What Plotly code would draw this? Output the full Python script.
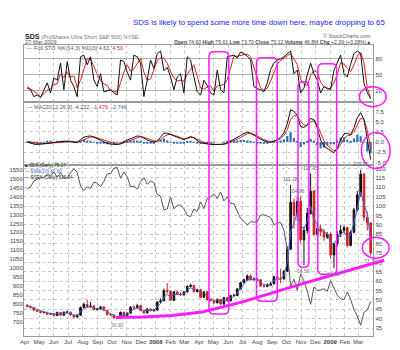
import plotly.graph_objects as go
import pandas as pd

W, H = 400, 350

# ---------------- data (weekly readings) ----------------
weeks = pd.date_range("2007-04-06", "2009-03-27", freq="W-FRI")

month_ticks = pd.date_range("2007-04-01", "2009-03-01", freq="MS")
month_labels = ["Apr", "May", "Jun", "Jul", "Aug", "Sep", "Oct", "Nov", "Dec", "<b>2008</b>",
                "Feb", "Mar", "Apr", "May", "Jun", "Jul", "Aug", "Sep", "Oct", "Nov", "Dec",
                "<b>2009</b>", "Feb", "Mar"]

sds_open = [47.2, 46.5, 46.0, 44.5, 43.9, 43.3, 43.4, 42.4, 42.8, 41.7,
            43.3, 41.9, 43.5, 43.5, 42.0, 40.9, 41.9, 46.0, 47.6, 46.4,
            46.8, 44.8, 45.1, 46.3, 44.5, 42.1, 42.0, 40.5, 40.3, 43.4,
            41.6, 42.9, 46.1, 45.8, 46.9, 44.4, 43.1, 45.1, 44.2,
            44.6, 48.9, 49.6, 55.0, 54.6, 49.8, 54.3, 53.0, 52.7, 54.3,
            57.2, 57.7, 54.4, 55.5, 51.4, 54.3, 50.1, 49.6, 48.5, 50.3,
            47.8, 51.2, 49.5, 52.3, 52.4, 55.8, 59.2, 60.7, 62.8, 60.8,
            61.1, 60.8, 57.4, 57.2, 57.8, 58.6, 62.4, 61.5, 61.2, 65.3,
            77.0, 102.0, 95.0, 102.5, 82.0, 87.0, 96.0, 108.0, 85.0, 88.0,
            86.5, 83.5,
            85.0, 74.0, 80.0, 85.0, 87.0, 88.5, 79.0, 86.0, 98.0, 106.0, 117.0, 94.0, 91.0]
sds_high = [47.8, 47.0, 46.3, 44.9, 44.3, 44.0, 43.8, 43.2, 43.1, 43.8,
            43.6, 43.9, 44.2, 43.9, 42.3, 42.5, 46.5, 48.6, 50.2, 49.0,
            47.2, 45.9, 46.8, 46.6, 44.8, 42.7, 42.4, 41.0, 43.9, 43.8,
            43.5, 46.8, 47.0, 48.0, 47.4, 44.8, 45.6, 45.6, 45.2,
            49.3, 50.8, 56.0, 59.0, 55.2, 54.8, 54.9, 54.2, 54.8, 57.8,
            58.6, 58.0, 56.0, 55.9, 54.8, 54.6, 50.8, 50.0, 50.8, 50.6,
            51.6, 51.6, 52.8, 53.4, 56.4, 59.6, 61.4, 63.6, 63.5, 62.0,
            61.8, 61.2, 58.3, 58.8, 59.5, 62.8, 63.4, 66.5, 66.0, 78.5,
            111.2, 104.0, 105.0, 104.9, 89.0, 99.0, 117.3, 108.5, 92.0, 90.0,
            88.0, 86.0,
            86.0, 80.5, 86.5, 90.0, 89.5, 89.0, 87.0, 99.0, 108.0, 119.3, 117.5, 97.0, 91.5]
sds_low = [46.0, 45.6, 44.2, 43.5, 42.9, 42.8, 42.0, 42.2, 41.3, 41.5,
           41.6, 41.7, 43.0, 41.8, 40.6, 40.6, 41.6, 45.6, 46.0, 45.9,
           44.5, 44.6, 44.9, 44.2, 41.9, 41.5, 40.2, 39.8, 40.0, 41.3,
           41.3, 42.6, 45.2, 45.5, 44.0, 42.8, 42.9, 44.0, 44.0,
           44.4, 48.2, 49.3, 53.5, 49.5, 49.5, 52.6, 52.2, 52.4, 54.0,
           56.6, 54.0, 54.0, 51.0, 51.1, 49.8, 49.3, 48.0, 48.2, 47.5,
           47.6, 49.2, 49.2, 51.8, 52.0, 55.5, 58.8, 60.3, 60.4, 60.3,
           60.3, 57.0, 56.6, 56.8, 57.4, 58.3, 60.5, 59.0, 60.8, 64.8,
           76.5, 88.0, 92.0, 80.5, 68.5, 85.5, 95.5, 84.0, 83.5, 84.0,
           81.5, 82.5,
           72.0, 67.0, 78.5, 83.5, 85.5, 78.0, 78.5, 85.5, 97.0, 105.0, 92.0, 87.0, 73.7]
sds_close = [46.5, 46.0, 44.5, 43.9, 43.3, 43.4, 42.4, 42.8, 41.7, 43.3,
             41.9, 43.5, 43.5, 42.0, 40.9, 41.9, 46.0, 47.6, 46.4, 46.8,
             44.8, 45.1, 46.3, 44.5, 42.1, 42.0, 40.5, 40.3, 43.4, 41.6,
             42.9, 46.1, 45.8, 46.9, 44.4, 43.1, 45.1, 44.2, 44.6,
             48.9, 49.6, 55.0, 54.6, 49.8, 54.3, 53.0, 52.7, 54.3, 57.2,
             57.7, 54.4, 55.5, 51.4, 54.3, 50.1, 49.6, 48.5, 50.3, 47.8,
             51.2, 49.5, 52.3, 52.4, 55.8, 59.2, 60.7, 62.8, 60.8, 61.1,
             60.8, 57.4, 57.2, 57.8, 58.6, 62.4, 61.5, 61.2, 65.3, 77.0,
             102.0, 95.0, 102.5, 82.0, 87.0, 96.0, 108.0, 85.0, 88.0, 86.5,
             83.5, 85.0,
             74.0, 80.0, 85.0, 87.0, 88.5, 79.0, 86.0, 98.0, 106.0, 117.0, 94.0, 91.0, 75.1]
sds_ema = [47.0, 46.6, 45.7, 44.9, 44.1, 43.7, 43.1, 42.9, 42.4, 42.7,
           42.3, 42.8, 43.1, 42.6, 41.8, 41.8, 43.5, 45.5, 46.0, 46.4,
           45.7, 45.3, 45.7, 45.1, 43.6, 42.8, 41.7, 41.0, 42.0, 41.9,
           42.3, 44.0, 45.0, 45.9, 45.3, 44.3, 44.6, 44.4, 44.5,
           46.5, 48.0, 51.5, 53.0, 51.5, 52.8, 53.0, 52.8, 53.5, 55.3,
           56.5, 55.5, 55.5, 53.5, 53.8, 52.0, 50.8, 49.7, 50.0, 49.0,
           50.0, 49.8, 51.0, 51.7, 53.7, 56.5, 58.6, 60.7, 60.8, 61.0,
           60.9, 59.2, 58.2, 58.0, 58.3, 60.3, 61.0, 61.1, 63.2, 70.0,
           86.0, 91.0, 96.5, 89.5, 88.0, 92.0, 100.0, 92.5, 90.0, 88.3,
           86.0, 85.5,
           80.0, 80.0, 82.5, 84.8, 86.7, 83.0, 84.5, 91.0, 98.5, 107.5, 101.0, 96.0, 81.0]
spx_close = [1443, 1453, 1485, 1495, 1506, 1505, 1523, 1515, 1536, 1507,
             1533, 1503, 1503, 1531, 1553, 1534, 1458, 1433, 1453, 1445,
             1479, 1474, 1454, 1484, 1525, 1527, 1557, 1561, 1501, 1535,
             1509, 1453, 1458, 1441, 1481, 1504, 1468, 1484, 1478,
             1411, 1401, 1325, 1330, 1396, 1331, 1349, 1353, 1331, 1294,
             1288, 1330, 1316, 1370, 1332, 1390, 1398, 1414, 1388, 1425,
             1375, 1400, 1361, 1360, 1318, 1278, 1262, 1240, 1260, 1257,
             1260, 1296, 1298, 1292, 1283, 1242, 1252, 1255, 1213, 1099,
             899, 940, 877, 968, 930, 873, 800, 896, 876, 879,
             887, 872,
             931, 890, 850, 832, 826, 869, 827, 770, 735, 683, 756, 768, 816]
sto_k = [25, 22, 9, 12, 7, 22, 35, 16, 44, 40,
         72, 22, 75, 40, 28, 9, 84, 87, 69, 84,
         40, 28, 52, 18, 20, 22, 16, 12, 78, 75,
         55, 40, 87, 84, 72, 9, 40, 78, 62, 90,
         95, 58, 64, 46, 22, 46, 52, 16, 84, 78,
         46, 18, 12, 40, 30, 16, 12, 59, 22, 16,
         84, 85, 87, 82, 93, 90, 85, 78, 28, 24,
         22, 18, 35, 60, 72, 78, 80, 84, 90, 95,
         52, 59, 16, 25, 50, 72, 52, 40, 16, 28,
         25, 22, 59, 72, 87, 52, 46, 70, 90, 95,
         90, 34, 16, 5]
sto_d = [28, 24, 19, 14, 9, 14, 21, 24, 32, 33,
         52, 45, 56, 46, 48, 26, 40, 60, 80, 80,
         64, 51, 40, 33, 30, 20, 19, 17, 35, 55,
         69, 57, 61, 70, 81, 55, 40, 42, 60, 77,
         82, 81, 72, 56, 44, 38, 40, 38, 51, 59,
         69, 47, 25, 23, 27, 29, 19, 29, 31, 32,
         41, 62, 85, 85, 87, 88, 89, 84, 64, 43,
         25, 21, 25, 38, 56, 70, 77, 81, 85, 90,
         80, 69, 42, 33, 30, 49, 58, 55, 36, 28,
         23, 25, 35, 51, 73, 70, 62, 56, 69, 85,
         92, 73, 25, 6]
macd_line = [0.1, -0.2, -0.5, -0.6, -0.5, -0.4, -0.2, -0.1, -0.1, 0.0,
             0.1, 0.2, 0.2, 0.2, 0.0, -0.1, 0.6, 1.2, 1.4, 1.5,
             1.2, 0.8, 0.4, 0.1, -0.3, -0.5, -0.6, -0.6, -0.4, 0.1,
             0.5, 0.8, 1.2, 1.5, 1.4, 0.9, 0.5, 0.2, 0.0, 0.2,
             1.2, 2.2, 2.2, 1.8, 1.5, 1.2, 0.9, 0.6, 1.0, 1.4,
             1.0, 0.3, -0.2, -0.3, -0.5, -0.6, -0.6, -0.6, -0.6, -0.5,
             -0.2, 0.2, 0.6, 1.1, 1.6, 2.1, 2.4, 2.2, 1.8, 1.2,
             0.7, 0.3, 0.0, 0.0, 0.2, 0.6, 1.2, 2.3, 4.5, 7.9,
             7.5, 6.5, 3.8, 3.6, 4.2, 5.8, 5.5, 3.5, 0.5, -1.0,
             -1.6, -2.0, -2.6, -1.5, 0.5, 2.0, 2.2, 1.8, 3.5, 6.0,
             7.2, 5.5, 0.5, -4.2]
macd_signal = [0.2, 0.1, -0.1, -0.3, -0.4, -0.45, -0.35, -0.25, -0.15, -0.1,
               0.0, 0.05, 0.1, 0.15, 0.1, 0.05, 0.2, 0.6, 1.0, 1.25,
               1.3, 1.1, 0.8, 0.5, 0.2, -0.1, -0.3, -0.45, -0.45, -0.2,
               0.1, 0.4, 0.8, 1.1, 1.3, 1.2, 0.9, 0.6, 0.3, 0.2,
               0.6, 1.3, 1.8, 1.9, 1.7, 1.4, 1.1, 0.8, 0.9, 1.1,
               1.1, 0.7, 0.2, -0.1, -0.3, -0.45, -0.55, -0.6, -0.6, -0.55,
               -0.35, -0.05, 0.3, 0.7, 1.1, 1.6, 2.0, 2.1, 1.9, 1.5,
               1.0, 0.6, 0.3, 0.1, 0.1, 0.4, 0.8, 1.6, 3.0, 5.5,
               6.5, 6.4, 5.0, 4.2, 4.1, 5.0, 5.2, 4.2, 2.0, 0.3,
               -0.8, -1.5, -2.1, -1.8, -0.6, 0.8, 1.6, 1.7, 2.6, 4.2,
               5.8, 5.6, 2.8, -1.5]
macd_hist = [m - s for m, s in zip(macd_line, macd_signal)]

sds_ticks = [35, 40, 45, 50, 55, 60, 65, 70, 75, 80, 85, 90, 95, 100, 105, 110, 115, 120]
spx_ticks = [700, 750, 800, 850, 900, 950, 1000, 1050, 1100, 1150, 1200, 1250, 1300,
             1350, 1400, 1450, 1500, 1550]
macd_ticks = [-5.0, -2.5, 0.0, 2.5, 5.0, 7.5]
macd_ticktext = ["-5.0", "-2.5", "0.0", "2.5", "5.0", "7.5"]
sto_ticks = [20, 50, 80]

# price labels: (week index, value text)
peak_labels = [(79, "111.18"), (81, "104.96"), (85, "117.33"), (100, "119.35")]
low_labels = [(27, "39.80"), (83, "68.50"), (92, "67.00"), (103, "73.70")]

# ---------------- helpers ----------------
FONT = "Liberation Sans, Arial, sans-serif"


def fx(px):
    return px / W


def fy(py):
    return 1 - py / H


def pt(px, py):
    return f"{fx(px):.5f},{fy(py):.5f}"


fig = go.Figure()

# stochastics
fig.add_trace(go.Scatter(x=weeks, y=sto_d, xaxis="x2", yaxis="y", mode="lines",
                         line=dict(color="#e0201c", width=1)))
fig.add_trace(go.Scatter(x=weeks, y=sto_k, xaxis="x2", yaxis="y", mode="lines",
                         line=dict(color="#111", width=1)))
# MACD
fig.add_trace(go.Bar(x=weeks, y=macd_hist, xaxis="x3", yaxis="y2",
                     marker=dict(color="#2d6cb0", line=dict(width=0))))
fig.add_trace(go.Scatter(x=weeks, y=macd_signal, xaxis="x3", yaxis="y2", mode="lines",
                         line=dict(color="#e0201c", width=1)))
fig.add_trace(go.Scatter(x=weeks, y=macd_line, xaxis="x3", yaxis="y2", mode="lines",
                         line=dict(color="#111", width=1)))
# price
fig.add_trace(go.Candlestick(x=weeks, open=sds_open, high=sds_high, low=sds_low, close=sds_close,
                             xaxis="x", yaxis="y3",
                             increasing=dict(line=dict(color="#111", width=1), fillcolor="#111"),
                             decreasing=dict(line=dict(color="#d81e1e", width=1), fillcolor="#d81e1e"),
                             whiskerwidth=0))
fig.add_trace(go.Scatter(x=weeks, y=sds_ema, xaxis="x", yaxis="y3", mode="lines",
                         line=dict(color="#4a62d8", width=1)))
fig.add_trace(go.Scatter(x=weeks, y=spx_close, xaxis="x", yaxis="y4", mode="lines",
                         line=dict(color="#555", width=1)))

xr = ["2007-03-29 22:00", "2009-04-01 12:00"]
xbase = dict(type="date", range=xr, domain=[fx(20), fx(373)], showgrid=True,
             gridcolor="#c8c8c8", griddash="dot", gridwidth=1, tickvals=month_ticks,
             showline=True, linecolor="#9a9a9a", mirror=True, zeroline=False, ticks="",
             fixedrange=True)
tickf = dict(family=FONT, size=6, color="#444")

layout = dict(
    width=W, height=H, margin=dict(l=0, r=0, t=0, b=0),
    paper_bgcolor="white", plot_bgcolor="rgba(0,0,0,0)",
    showlegend=False, bargap=0.35,
    xaxis=dict(xbase, anchor="y3", ticktext=month_labels, tickfont=tickf,
               rangeslider=dict(visible=False)),
    xaxis2=dict(xbase, anchor="y", matches="x", showticklabels=False),
    xaxis3=dict(xbase, anchor="y2", matches="x", showticklabels=False),
    yaxis=dict(domain=[fy(102), fy(45)], range=[-0.6, 106.4], anchor="x2", side="right",
               tickvals=sto_ticks, tickfont=tickf, showgrid=True, gridcolor="#b0b0b0",
               showline=True, linecolor="#9a9a9a", mirror=True, zeroline=False, ticks=""),
    yaxis2=dict(domain=[fy(165), fy(102)], range=[-5.49, 9.88], anchor="x3", side="right",
                tickvals=macd_ticks, ticktext=macd_ticktext, tickfont=tickf, showgrid=True,
                gridcolor="#c8c8c8", griddash="dot", showline=True, linecolor="#9a9a9a",
                mirror=True, zeroline=False, ticks=""),
    yaxis3=dict(domain=[fy(337), fy(165)], range=[30.8, 122.1], anchor="x", side="right",
                tickvals=sds_ticks, tickfont=tickf, showgrid=True, gridcolor="#c8c8c8",
                griddash="dot", showline=True, linecolor="#9a9a9a", mirror=True,
                zeroline=False, ticks=""),
    yaxis4=dict(range=[623.5, 1577.4], overlaying="y3", anchor="x", side="left",
                tickvals=spx_ticks, tickfont=tickf, showgrid=False, zeroline=False,
                showline=False, ticks=""),
)
fig.update_layout(**layout)

# ---------------- text ----------------
ann = []


def txt(px, py, text, size=6, color="#444", xanchor="left", yanchor="middle", **kw):
    ann.append(dict(x=fx(px), y=fy(py), xref="paper", yref="paper", text=text, showarrow=False,
                    xanchor=xanchor, yanchor=yanchor, font=dict(family=FONT, size=size, color=color),
                    **kw))


txt(387, 22.5, "SDS is likely to spend some more time down here, maybe dropping to 65",
    size=7.8, color="#2323f0", xanchor="right")
txt(19, 36.5, "<b>SDS</b> <span style='font-size:5.5px;color:#777'>(ProShares Ultra Short S&P 500) NYSE</span>",
    size=7, color="#222")
txt(19, 42.5, "27-Mar-2009", size=5.5, color="#555")
txt(373, 36.5, "© StockCharts.com", size=5.5, color="#666", xanchor="right")
txt(373, 42.5, "<b>Open</b> 74.60 <b>High</b> 75.61 <b>Low</b> 73.70 <b>Close</b> 75.12 "
    "<b>Volume</b> 46.8M <b>Chg</b> +2.39 (+3.28%)▲", size=5.1, color="#444", xanchor="right")
txt(21, 48.5, "— Full STO %K(14,3) %D(3) 4.63, <span style='color:#e0201c'>4.50</span>",
    size=5.5, color="#555")
txt(21, 107, "— MACD(12,26,9) -4.222, <span style='color:#e0201c'>-1.476</span>, "
    "<span style='color:#2d6cb0'>-2.746</span>", size=5.5, color="#555")
txt(20, 162.5, "■ SDS (Daily) 75.17<br><span style='color:#4a62d8'>— EMA(10) 80.60</span>"
    "<br>— $SPX (Daily) 815.94", size=4.6, color="#333", yanchor="top", align="left",
    borderpad=0)

for i, t in peak_labels:
    ann.append(dict(x=weeks[i], y=sds_high[i], xref="x", yref="y3", text=t, showarrow=False,
                    yanchor="bottom", yshift=1, font=dict(family=FONT, size=5, color="#666")))
for i, t in low_labels:
    ann.append(dict(x=weeks[i], y=sds_low[i], xref="x", yref="y3", text=t, showarrow=False,
                    yanchor="top", yshift=-1, font=dict(family=FONT, size=5, color="#777")))
fig.update_layout(annotations=ann)

# ---------------- magenta hand-drawn markup ----------------
MAG = "#ff1aff"
shapes = []


def rrect(x0, y0, x1, y1, r=5):
    p = (f"M {pt(x0 + r, y0)} L {pt(x1 - r, y0)} Q {pt(x1, y0)} {pt(x1, y0 + r)} "
         f"L {pt(x1, y1 - r)} Q {pt(x1, y1)} {pt(x1 - r, y1)} L {pt(x0 + r, y1)} "
         f"Q {pt(x0, y1)} {pt(x0, y1 - r)} L {pt(x0, y0 + r)} Q {pt(x0, y0)} {pt(x0 + r, y0)} Z")
    shapes.append(dict(type="path", path=p, xref="paper", yref="paper",
                       line=dict(color=MAG, width=1.5), layer="above"))


rrect(207, 52, 227, 315)
rrect(255, 58, 276, 302)
rrect(297, 82, 308, 268)
rrect(317, 64, 336, 275)


def ell(x0, y0, x1, y1):
    shapes.append(dict(type="circle", xref="paper", yref="paper", x0=fx(x0), x1=fx(x1),
                       y0=fy(y1), y1=fy(y0), line=dict(color=MAG, width=1.5), layer="above"))


ell(359, 87, 386, 107)
ell(361, 133, 390, 169)
ell(362, 238, 389, 259)

trend = [(113, 318.5), (140, 318), (170, 316.5), (200, 313), (220, 308), (240, 303),
         (300, 285), (384, 261)]
tp = "M " + " L ".join(pt(a, b) for a, b in trend)
shapes.append(dict(type="path", path=tp, xref="paper", yref="paper",
                   line=dict(color=MAG, width=3), layer="above"))
fig.update_layout(shapes=shapes)

fig.write_html("out.html")
